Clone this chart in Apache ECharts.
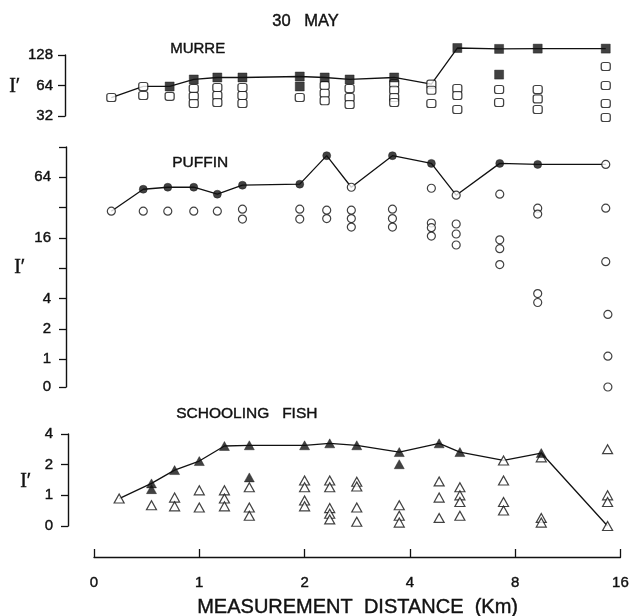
<!DOCTYPE html>
<html><head><meta charset="utf-8">
<script src="https://cdn.jsdelivr.net/npm/echarts@6.0.0/dist/echarts.min.js"></script>
<style>html,body{margin:0;padding:0;background:#fff}#c{width:632px;height:616px}</style>
</head><body><div id="c"></div>
<script>
// x tick labels (km), placed at log2 positions 0..5
const xTicks = ['0', '1', '2', '4', '8', '16'];

// MURRE
const murreKm   = [0.56, 0.69, 0.82, 0.96, 1.12, 1.32, 1.92, 2.26, 2.66, 3.56, 4.54, 5.38, 7.07, 9.1, 14.2];
const murreLine = [48.7, 62.6, 62.6, 73.4, 76.8, 76.8, 78.5, 76.8, 73.4, 76.8, 66, 150, 147, 148, 148];
const murreLineOpen = [1, 1, 0, 0, 0, 0, 0, 0, 0, 0, 1, 0, 0, 0, 0];
const murreExtraFilled = [[1.92, 62.6], [7.07, 82]];
const murreExtraOpen = [[0.69, 51], [0.82, 50], [0.96, 59.8], [0.96, 50], [0.96, 42.5], [1.12, 61.2], [1.12, 51], [1.12, 43.5],
  [1.32, 61.2], [1.32, 51], [1.32, 42.5], [1.92, 48.7], [2.26, 64], [2.26, 53.6], [2.26, 45.3], [2.66, 59.8], [2.66, 48.7], [2.66, 41.6],
  [3.56, 67], [3.56, 57.4], [3.56, 48.7], [3.56, 43.5], [4.54, 57.4], [4.54, 42.5], [5.38, 59.8], [5.38, 51], [5.38, 37.1],
  [7.07, 58.4], [7.07, 43.5], [9.1, 58.4], [9.1, 47.2], [9.1, 37.1], [14.2, 98.6], [14.2, 64], [14.2, 42.5], [14.2, 30.9]];

// PUFFIN
const puffinKm   = [0.56, 0.69, 0.81, 0.96, 1.12, 1.32, 1.92, 2.29, 2.69, 3.52, 4.54, 5.34, 7.1, 9.1, 14.2];
const puffinLine = [29.5, 48.7, 51, 51, 43.5, 53.4, 54.7, 105, 51, 105, 88, 42.5, 88, 86, 86];
const puffinLineOpen = [1, 0, 0, 0, 0, 0, 0, 0, 1, 0, 0, 1, 0, 0, 1];
const puffinExtraOpen = [[0.69, 29.5], [0.81, 29.5], [0.96, 29.5], [1.12, 29.5], [1.32, 30.9], [1.32, 24.6], [1.92, 30.9], [1.92, 24.6],
  [2.29, 30.2], [2.29, 24.9], [2.69, 30.2], [2.69, 24.9], [2.69, 20.5], [3.52, 30.9], [3.52, 24.9], [3.52, 20.5],
  [4.54, 49.8], [4.54, 22.5], [4.54, 20.2], [4.54, 16.7], [5.34, 22], [5.34, 17.5], [5.34, 13.6],
  [7.1, 43.5], [7.1, 15.3], [7.1, 12.5], [7.1, 8.7], [9.1, 31.6], [9.1, 27.6], [9.1, 4.48], [9.1, 3.65],
  [14.2, 31.6], [14.2, 9.3], [14.4, 2.78], [14.4, 1.07], [14.4, 0]];

// SCHOOLING FISH
const fishKm   = [0.59, 0.73, 0.85, 1.0, 1.18, 1.39, 2.0, 2.36, 2.82, 3.73, 4.85, 5.56, 7.41, 9.5, 14.7];
const fishLine = [0.93, 1.31, 1.77, 2.17, 3.05, 3.1, 3.1, 3.24, 3.1, 2.66, 3.24, 2.66, 2.2, 2.6, 0];
const fishLineOpen = [1, 0, 0, 0, 0, 0, 0, 0, 0, 0, 0, 0, 1, 0, 1];
const fishExtraFilled = [[0.73, 1.15], [1.39, 1.5], [3.73, 2.02]];
const fishExtraOpen = [[0.73, 0.80], [0.85, 0.95], [0.85, 0.78], [1.0, 1.12], [1.0, 0.76], [1.18, 1.12], [1.18, 0.93], [1.18, 0.78],
  [1.39, 1.2], [1.39, 0.76], [1.39, 0.63], [2.0, 1.4], [2.0, 1.2], [2.0, 0.89], [2.0, 0.78],
  [2.36, 1.4], [2.36, 1.2], [2.36, 0.75], [2.36, 0.66], [2.36, 0.58], [2.82, 1.36], [2.82, 1.22], [2.82, 0.76], [2.82, 0.55],
  [3.73, 0.8], [3.73, 0.63], [3.73, 0.54], [4.85, 1.37], [4.85, 0.95], [4.85, 0.6],
  [5.56, 1.2], [5.56, 1.0], [5.56, 0.86], [5.56, 0.63], [7.41, 1.4], [7.41, 0.86], [7.41, 0.71],
  [9.5, 2.36], [9.5, 0.6], [9.5, 0.54], [14.7, 2.84], [14.7, 1.0], [14.7, 0.86]];

const PUFFIN_ZERO = -0.92, FISH_ZERO = -1;
const tx = km => Math.log2(km) + 1;
const ty = (v, zero) => v > 0 ? Math.log2(v) : zero;
const pt = (km, v, zero) => [tx(km), ty(v, zero)];
const linePts = (kms, vals, zero) => kms.map((k, i) => pt(k, vals[i], zero));
const pick = (kms, vals, flags, want, zero) => kms.map((k, i) => flags[i] === want ? pt(k, vals[i], zero) : null).filter(Boolean);
const conv = (arr, zero) => arr.map(([k, v]) => pt(k, v, zero));

const FONT = 'Liberation Sans';
const INK = '#111';
const chart = echarts.init(document.getElementById('c'), null, {renderer: 'canvas'});

function yAx(grid, min, max, offset, extra) {
  return Object.assign({
    gridIndex: grid, type: 'value', min: min, max: max, offset: offset,
    axisLine: {show: true, onZero: false, lineStyle: {color: INK, width: 1.4}},
    axisTick: {show: true, length: 7, lineStyle: {color: INK, width: 1.3}},
    splitLine: {show: false}
  }, extra);
}
const lineS = (xi, data) => ({type: 'line', xAxisIndex: xi, yAxisIndex: xi, data: data, symbol: 'none', clip: false,
  lineStyle: {color: INK, width: 1.3}, z: 1, silent: true});
const openS = (xi, data, sym, size) => ({type: 'scatter', xAxisIndex: xi, yAxisIndex: xi, data: data, symbol: sym, symbolSize: size, clip: false,
  itemStyle: {color: '#fff', borderColor: INK, borderWidth: 1.2}, z: 2});
const fillS = (xi, data, sym, size) => ({type: 'scatter', xAxisIndex: xi, yAxisIndex: xi, data: data, symbol: sym, symbolSize: size, clip: false,
  itemStyle: {color: INK, borderColor: INK, borderWidth: 0.5}, z: 3});

const puffinLabels = {'-0.92': '0', '0': '1', '1': '2', '2': '4', '4': '16', '6': '64'};
const lab = (margin, extra) => Object.assign({margin: margin, fontFamily: FONT, fontSize: 15, color: INK,
  textBorderColor: INK, textBorderWidth: 0.4}, extra);
const txt = (left, top, text, size, family) => ({type: 'text', left: left, top: top,
  style: {text: text, font: size + 'px "' + (family || FONT) + '"', fill: INK, stroke: INK, lineWidth: 0.4}});

const option = {
  animation: false,
  backgroundColor: '#fff',
  grid: [
    {left: 94, right: 8, top: 55, height: 61},
    {left: 94, right: 8, top: 147, height: 240},
    {left: 94, right: 8, top: 434, height: 92}
  ],
  xAxis: [0, 1, 2].map(i => ({
    gridIndex: i, type: 'value', min: 0, max: 5, interval: 1, show: i === 2, offset: 31, position: 'bottom',
    axisLine: {show: true, onZero: false, lineStyle: {color: INK, width: 1.4}},
    axisTick: {show: true, inside: true, length: 8, lineStyle: {color: INK, width: 1.3}},
    axisLabel: lab(18, {formatter: v => xTicks[Math.round(v)]}),
    splitLine: {show: false}
  })),
  yAxis: [
    yAx(0, 5, 7, 29, {interval: 1, axisLabel: lab(12, {formatter: v => String(Math.round(Math.pow(2, v)))})}),
    yAx(1, PUFFIN_ZERO, 7, 28, {
      axisTick: {show: true, length: 7, lineStyle: {color: INK, width: 1.3}, customValues: [PUFFIN_ZERO, 0, 1, 2, 3, 4, 5, 6, 7]},
      axisLabel: lab(15, {customValues: [PUFFIN_ZERO, 0, 1, 2, 4, 6],
        formatter: v => puffinLabels[String(Math.round(v * 100) / 100)] || ''})
    }),
    yAx(2, FISH_ZERO, 2, 26, {interval: 1, axisLabel: lab(15, {
      formatter: v => v <= FISH_ZERO ? '0' : String(Math.round(Math.pow(2, v)))})})
  ],
  graphic: [
    txt(272, 13, '30   MAY', 16.5),
    txt(170, 41, 'MURRE', 15),
    txt(172, 155, 'PUFFIN', 15.5),
    txt(176, 406, 'SCHOOLING   FISH', 15.5),
    txt(9, 77, 'I\u2032', 20, 'Liberation Serif'),
    txt(14, 258, 'I\u2032', 20, 'Liberation Serif'),
    txt(20, 472, 'I\u2032', 20, 'Liberation Serif'),
    txt(197, 597, 'MEASUREMENT  DISTANCE  (Km)', 20)
  ],
  series: [
    lineS(0, linePts(murreKm, murreLine, 0)),
    openS(0, pick(murreKm, murreLine, murreLineOpen, 1, 0).concat(conv(murreExtraOpen, 0)), 'roundRect', [9, 8]),
    fillS(0, pick(murreKm, murreLine, murreLineOpen, 0, 0).concat(conv(murreExtraFilled, 0)), 'rect', [9, 9]),
    lineS(1, linePts(puffinKm, puffinLine, PUFFIN_ZERO)),
    openS(1, pick(puffinKm, puffinLine, puffinLineOpen, 1, PUFFIN_ZERO).concat(conv(puffinExtraOpen, PUFFIN_ZERO)), 'circle', 8),
    fillS(1, pick(puffinKm, puffinLine, puffinLineOpen, 0, PUFFIN_ZERO), 'circle', 8),
    lineS(2, linePts(fishKm, fishLine, FISH_ZERO)),
    openS(2, pick(fishKm, fishLine, fishLineOpen, 1, FISH_ZERO).concat(conv(fishExtraOpen, FISH_ZERO)), 'triangle', [10, 9]),
    fillS(2, pick(fishKm, fishLine, fishLineOpen, 0, FISH_ZERO).concat(conv(fishExtraFilled, FISH_ZERO)), 'triangle', [10, 9])
  ]
};
chart.setOption(option);
</script></body></html>
